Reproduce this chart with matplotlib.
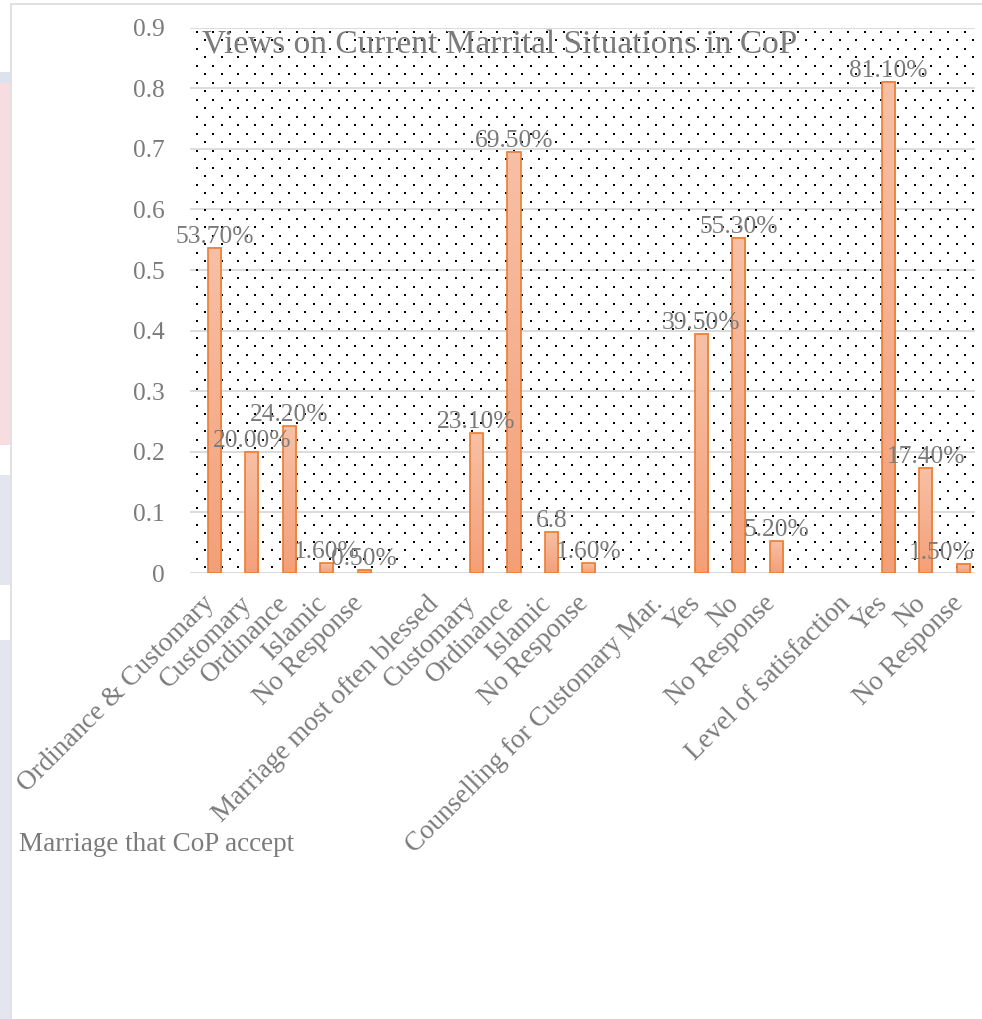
import numpy as np
import matplotlib
matplotlib.use("Agg")
import matplotlib.pyplot as plt
from matplotlib.colors import LinearSegmentedColormap
from matplotlib.patches import Rectangle
from matplotlib.transforms import ScaledTranslation

# survey groups laid out on one category axis; blank slots separate the groups
categories = [
    "Ordinance & Customary", "Customary", "Ordinance", "Islamic", "No Response",
    "", "Marriage most often blessed", "Customary", "Ordinance", "Islamic", "No Response",
    "", "Counselling for Customary Mar.", "Yes", "No", "No Response",
    "", "Level of satisfaction", "Yes", "No", "No Response",
]
values = [
    0.537, 0.200, 0.242, 0.016, 0.005,
    None, None, 0.231, 0.695, 0.068, 0.016,
    None, None, 0.395, 0.553, 0.052,
    None, None, 0.811, 0.174, 0.015,
]
value_labels = [
    "53.70%", "20.00%", "24.20%", "1.60%", "0.50%",
    "", "", "23.10%", "69.50%", "6.8", "1.60%",
    "", "", "39.50%", "55.30%", "5.20%",
    "", "", "81.10%", "17.40%", "1.50%",
]
yticks = [0, 0.1, 0.2, 0.3, 0.4, 0.5, 0.6, 0.7, 0.8, 0.9]
ytick_labels = ["0", "0.1", "0.2", "0.3", "0.4", "0.5", "0.6", "0.7", "0.8", "0.9"]

title = "Views on Current Marrital Situations in CoP"
group_caption = "Marriage that CoP accept"

TEXT = "#7b7b7b"
GRID = "#d9d9d9"
EDGE = "#ed7d31"
FS = 18.4        # tick and value labels
FS_CAT = 19.5    # category labels
FS_TITLE = 24
plt.rcParams["font.family"] = ["Liberation Serif", "DejaVu Serif"]

W, H = 982, 1019
fig = plt.figure(figsize=(W / 100, H / 100), dpi=100)

# faint strip on the far left, outside the chart frame
for y0, y1, col in [(72, 83, "#dde3ee"), (83, 445, "#f8dde0"),
                    (475, 585, "#e3e6ef"), (640, 1019, "#e3e6ef")]:
    fig.add_artist(Rectangle((0, 1 - y1 / H), 10 / W, (y1 - y0) / H,
                             transform=fig.transFigure, color=col, lw=0))

# chart frame
fig.add_artist(Rectangle((11 / W, -0.01), 1.0, 1 - 4 / H + 0.01,
                         transform=fig.transFigure, fill=False,
                         edgecolor=GRID, lw=1.1))

ax_left, ax_top, ax_w, ax_h = 190, 27.7, 785, 545.3
ax = fig.add_axes([ax_left / W, 1 - (ax_top + ax_h) / H, ax_w / W, ax_h / H])
ax.set_facecolor("white")

# dotted fill of the plot area (staggered lattice)
dx, dy = 16.7, 8.5
px, py = [], []
for i, yy in enumerate(np.arange(31.7, ax_top + ax_h, dy)):
    start = 196.7 if i % 2 == 0 else 196.7 + dx / 2
    for xx in np.arange(start, ax_left + ax_w, dx):
        px.append((xx - ax_left) / ax_w)
        py.append((ax_top + ax_h - yy) / ax_h)
ax.scatter(px, py, transform=ax.transAxes, s=2.4, marker="s", c="black",
           linewidths=0, zorder=1)

x = np.arange(len(categories))
xs = [xi for xi, v in zip(x, values) if v is not None]
vs = [v for v in values if v is not None]
bar_w = 0.35

grad = LinearSegmentedColormap.from_list("bar", ["#f3a079", "#f7c0a6"])
for xi, v in zip(xs, vs):
    ax.imshow(np.linspace(0, 1, 64).reshape(-1, 1), cmap=grad, origin="lower",
              extent=(xi - bar_w / 2, xi + bar_w / 2, 0, v), aspect="auto",
              zorder=2.5, interpolation="bilinear")
ax.bar(xs, vs, width=bar_w, facecolor="none", edgecolor=EDGE, linewidth=1.2,
       zorder=3)

texts = []
for xi, v, lbl in zip(x, values, value_labels):
    if v is None:
        continue
    texts.append(ax.text(xi, v, lbl, ha="center", va="bottom", fontsize=FS,
                         color=TEXT, zorder=5))

ax.set_xlim(-0.654, 20.31)
ax.set_ylim(0, 0.9)
ax.tick_params(axis="both", length=0)
ax.tick_params(axis="y", pad=18)
ax.tick_params(axis="x", pad=13)
ax.set_yticks(yticks)
ax.set_yticklabels(ytick_labels, fontsize=FS, color=TEXT)
ax.set_xticks(x)
ax.set_xticklabels(categories, rotation=45, ha="right", rotation_mode="anchor",
                   fontsize=FS_CAT, color=TEXT)
# nudge the slanted labels left so their ends sit under the bars
shift = ScaledTranslation(-13 / 100, 0, fig.dpi_scale_trans)
for lbl in ax.get_xticklabels():
    lbl.set_transform(lbl.get_transform() + shift)

ax.set_axisbelow(True)
ax.yaxis.grid(True, color=GRID, linewidth=1.3)
for s in ax.spines.values():
    s.set_visible(False)

fig.text(500 / W, 1 - 53 / H, title, ha="center", va="baseline",
         fontsize=FS_TITLE, color=TEXT)
fig.text(19 / W, 1 - 851 / H, group_caption, ha="left", va="baseline",
         fontsize=FS_CAT, color=TEXT)

# keep value labels inside the plot area on the right
fig.canvas.draw()
renderer = fig.canvas.get_renderer()
ax_bb = ax.get_window_extent(renderer)
for t in texts:
    bb = t.get_window_extent(renderer)
    if bb.x1 > ax_bb.x1 + 2:
        t.set_horizontalalignment("right")
        t.set_x(ax.get_xlim()[1])

fig.savefig("out.png", dpi=100)
